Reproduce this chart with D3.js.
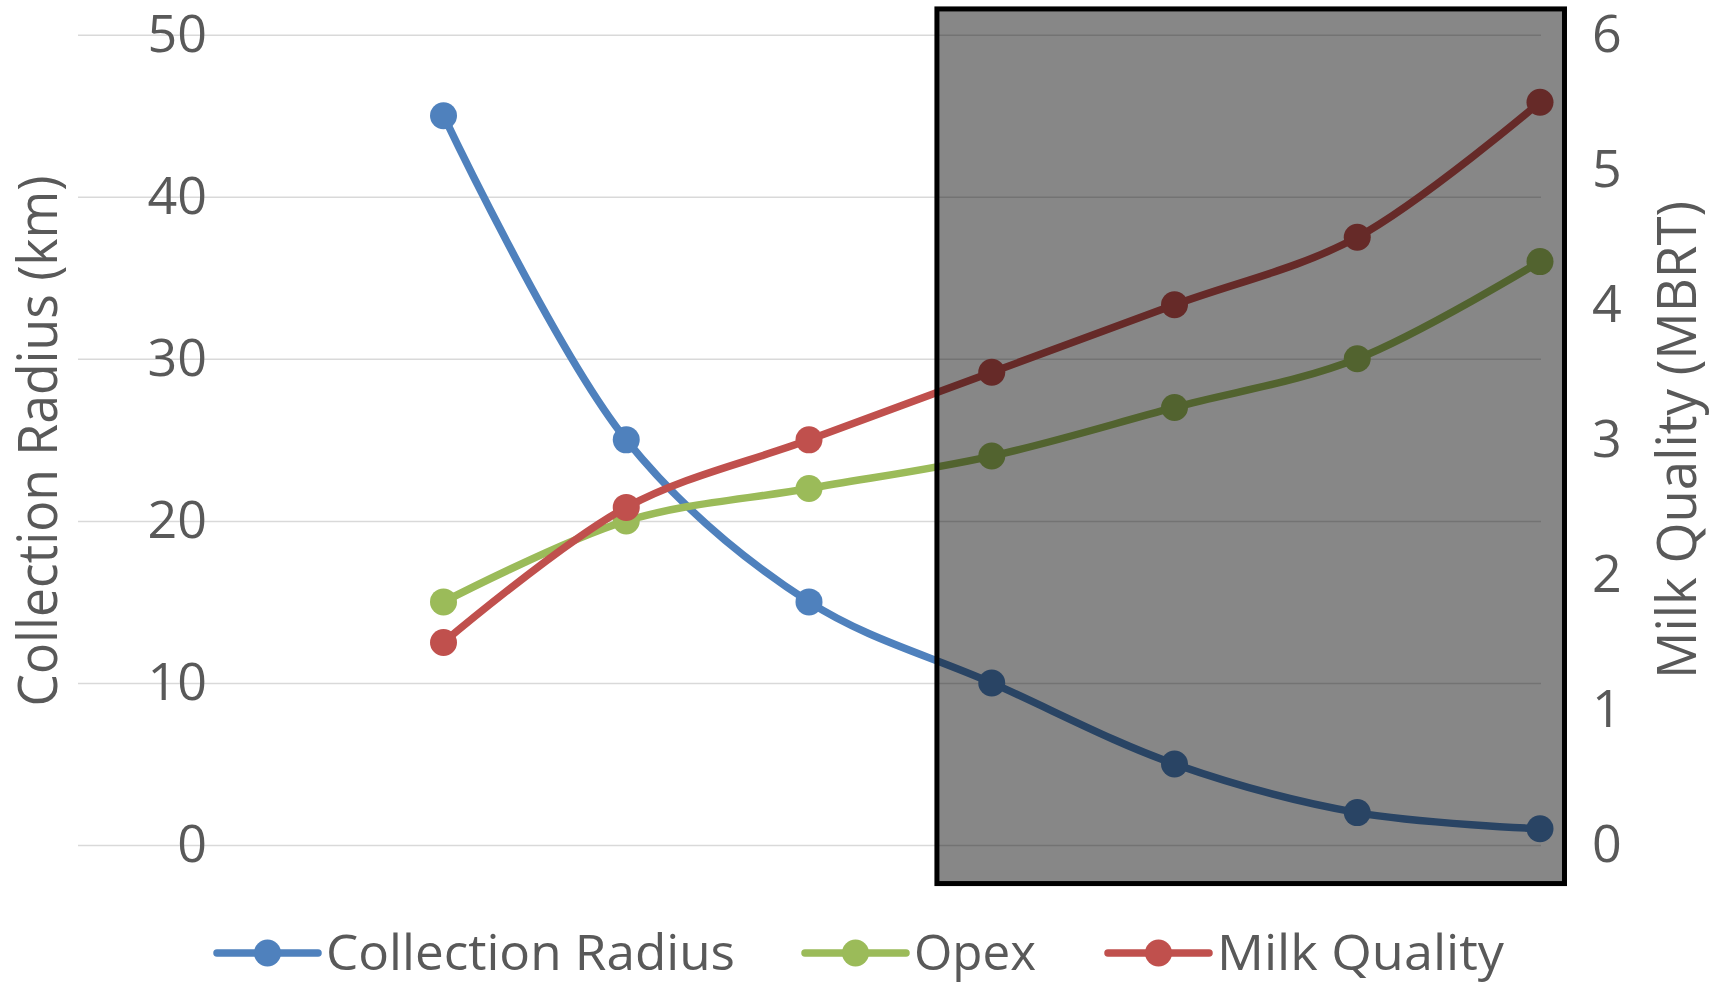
<!DOCTYPE html>
<html>
<head>
<meta charset="utf-8">
<script src="https://cdn.jsdelivr.net/npm/d3@7"></script>
<style>
  body { margin: 0; background: #fff; }
  svg { display: block; font-family: "Open Sans", "DejaVu Sans", sans-serif; }
</style>
</head>
<body>
<div id="chart"></div>
<script>
// categories along the x axis (no labels shown; the first two are empty)
const categories = [1, 2, 3, 4, 5, 6, 7, 8, 9];

// series values
const collectionRadius = [null, null, 45, 25, 15, 10, 5, 2, 1];   // km, left axis
const opex = [null, null, 15, 20, 22, 24, 27, 30, 36];             // left axis
const milkQuality = [null, null, 1.5, 2.5, 3, 3.5, 4, 4.5, 5.5];   // MBRT, right axis

// tick labels
const leftTicks = [0, 10, 20, 30, 40, 50];
const rightTicks = [0, 1, 2, 3, 4, 5, 6];

const seriesNames = ["Collection Radius", "Opex", "Milk Quality"];
const seriesColors = ["#4F81BD", "#9BBB59", "#C0504D"];

// shaded highlight, in category / km units
const highlightX = [5.7, 9.134];
const highlightY = [-2.38, 51.59];

const width = 1723, height = 982;

const svg = d3.select("#chart").append("svg")
    .attr("width", width)
    .attr("height", height);

const x = d3.scaleLinear().domain([1, 9]).range([78, 1540]);
const yLeft = d3.scaleLinear().domain([0, 50]).range([845, 34.7]);
const yRight = d3.scaleLinear().domain([0, 6]).range([845, 34.7]);

// gridlines
svg.append("g")
    .attr("transform", "translate(78,0)")
    .call(d3.axisLeft(yLeft).tickValues(leftTicks).tickSize(-(1541 - 78)).tickFormat(""))
    .call(g => g.select(".domain").remove())
    .call(g => g.selectAll("line").attr("stroke", "#d9d9d9").attr("stroke-width", 1.5));

// series
const series = [
    { values: collectionRadius, y: yLeft },
    { values: opex, y: yLeft },
    { values: milkQuality, y: yRight }
];

series.forEach((s, i) => {
    const pts = categories.map((c, j) => ({ c: c, v: s.values[j] })).filter(d => d.v != null);
    const line = d3.line()
        .x(d => x(d.c))
        .y(d => s.y(d.v))
        .curve(d3.curveCatmullRom);
    svg.append("path")
        .datum(pts)
        .attr("d", line)
        .attr("fill", "none")
        .attr("stroke", seriesColors[i])
        .attr("stroke-width", 7.5)
        .attr("stroke-linecap", "round")
        .attr("stroke-linejoin", "round");
    svg.selectAll(".m" + i)
        .data(pts)
        .enter().append("circle")
        .attr("class", "m" + i)
        .attr("cx", d => x(d.c))
        .attr("cy", d => s.y(d.v))
        .attr("r", 13.5)
        .attr("fill", seriesColors[i]);
});

// shaded box
svg.append("rect")
    .attr("x", x(highlightX[0]))
    .attr("y", yLeft(highlightY[1]))
    .attr("width", x(highlightX[1]) - x(highlightX[0]))
    .attr("height", yLeft(highlightY[0]) - yLeft(highlightY[1]))
    .attr("fill", "rgba(0,0,0,0.47)")
    .attr("stroke", "#000")
    .attr("stroke-width", 5);

// axis labels
svg.append("g")
    .attr("transform", "translate(207,0)")
    .call(d3.axisLeft(yLeft).tickValues(leftTicks).tickSize(0).tickPadding(0).tickFormat(d3.format("d")))
    .call(g => g.select(".domain").remove())
    .call(g => g.selectAll("text").attr("fill", "#595959").style("font-size", "52px")
        .style("font-family", "'Open Sans', sans-serif"));

svg.append("g")
    .attr("transform", "translate(1592,0)")
    .call(d3.axisRight(yRight).tickValues(rightTicks).tickSize(0).tickPadding(0).tickFormat(d3.format("d")))
    .call(g => g.select(".domain").remove())
    .call(g => g.selectAll("text").attr("fill", "#595959").style("font-size", "52px")
        .style("font-family", "'Open Sans', sans-serif"));

// axis titles
svg.append("text")
    .attr("transform", "translate(57,441) rotate(-90)")
    .attr("text-anchor", "middle")
    .attr("fill", "#595959")
    .style("font-size", "54px")
    .attr("textLength", 531)
    .attr("lengthAdjust", "spacingAndGlyphs")
    .text("Collection Radius (km)");

svg.append("text")
    .attr("transform", "translate(1696,440) rotate(-90)")
    .attr("text-anchor", "middle")
    .attr("fill", "#595959")
    .style("font-size", "54px")
    .attr("textLength", 478)
    .attr("lengthAdjust", "spacingAndGlyphs")
    .text("Milk Quality (MBRT)");

// legend
const legendX = [217, 805, 1108];
const legendTextW = [409, 122, 287];
const legendY = 953;

seriesNames.forEach((name, i) => {
    const g = svg.append("g").attr("transform", `translate(${legendX[i]},${legendY})`);
    g.append("line")
        .attr("x1", 0).attr("x2", 101)
        .attr("stroke", seriesColors[i])
        .attr("stroke-width", 7.5)
        .attr("stroke-linecap", "round");
    g.append("circle")
        .attr("cx", 50.5)
        .attr("r", 13.5)
        .attr("fill", seriesColors[i]);
    g.append("text")
        .attr("x", 109)
        .attr("y", 17)
        .attr("fill", "#595959")
        .style("font-size", "50px")
        .attr("textLength", legendTextW[i])
        .attr("lengthAdjust", "spacingAndGlyphs")
        .text(name);
});
</script>
</body>
</html>
